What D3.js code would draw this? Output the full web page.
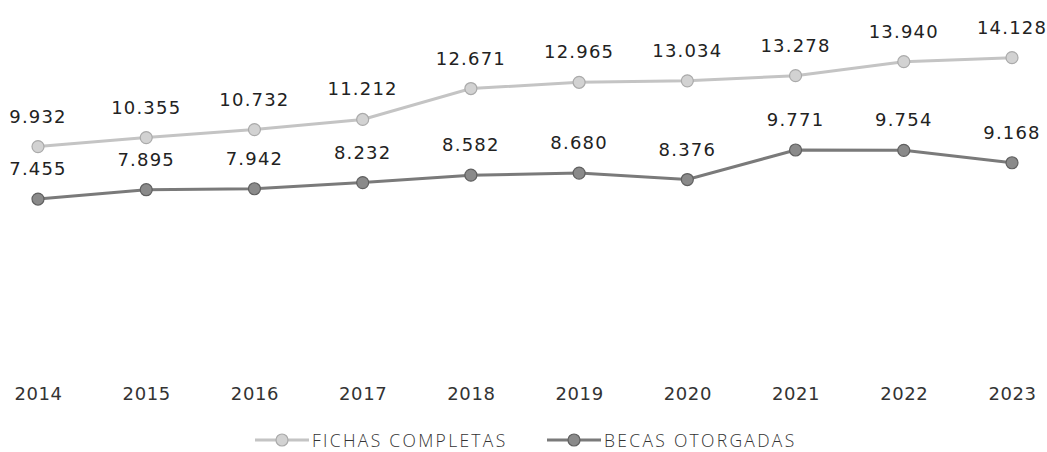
<!DOCTYPE html>
<html><head><meta charset="utf-8">
<script src="https://cdn.jsdelivr.net/npm/d3@7"></script>
<style>body{margin:0;background:#fff}svg{display:block}</style>
</head><body>
<script>
const years = ["2014","2015","2016","2017","2018","2019","2020","2021","2022","2023"];
const fichas = [9932,10355,10732,11212,12671,12965,13034,13278,13940,14128];
const becas = [7455,7895,7942,8232,8582,8680,8376,9771,9754,9168];
const fmt = v => d3.format(",")(v).replace(",", ".");

const W = 1047, H = 452;
const svg = d3.select("body").append("svg").attr("width", W).attr("height", H);
const x = d3.scalePoint().domain(years).range([38, 1012]);
const y = d3.scaleLinear().domain([0, 16000]).range([357, 18]);

const series = [
  {name:"FICHAS COMPLETAS", vals:fichas, line:"#c4c4c4", fill:"#d2d2d2", stroke:"#aaaaaa"},
  {name:"BECAS OTORGADAS", vals:becas, line:"#7a7a7a", fill:"#8a8a8a", stroke:"#606060"}
];

series.forEach(s => {
  const pts = years.map((yr,i)=>[yr, s.vals[i]]);
  svg.append("path").datum(pts)
    .attr("fill","none").attr("stroke", s.line).attr("stroke-width",3)
    .attr("d", d3.line().x(d=>x(d[0])).y(d=>y(d[1])));
  svg.selectAll(null).data(pts).enter().append("circle")
    .attr("cx", d=>x(d[0])).attr("cy", d=>y(d[1])).attr("r",6)
    .attr("fill", s.fill).attr("stroke", s.stroke).attr("stroke-width",1.2);
  svg.selectAll(null).data(pts).enter().append("text")
    .attr("x", d=>x(d[0])).attr("y", d=>y(d[1]) - 24)
    .attr("text-anchor","middle")
    .attr("font-family","DejaVu Sans").attr("font-size",18).attr("letter-spacing","1.2px")
    .attr("fill","#222").text(d=>fmt(d[1]));
});

const xAxis = svg.append("g").attr("transform","translate(0,357)")
  .call(d3.axisBottom(x).tickSize(0).tickPadding(30));
xAxis.select(".domain").remove();
xAxis.selectAll("text").attr("font-family","DejaVu Sans").attr("font-size",18)
  .attr("letter-spacing","0.6px").attr("fill","#333");

// legend
const legX = [255, 547];
series.forEach((s,i) => {
  const g = svg.append("g").attr("transform",`translate(${legX[i]},440)`);
  g.append("line").attr("x1",0).attr("x2",54).attr("y1",0).attr("y2",0)
    .attr("stroke", s.line).attr("stroke-width",3);
  g.append("circle").attr("cx",27).attr("cy",0).attr("r",6)
    .attr("fill", s.fill).attr("stroke", s.stroke).attr("stroke-width",1.2);
  g.append("text").attr("x",57).attr("y",6.5)
    .attr("font-family","Open Sans").attr("font-size",17.5).attr("font-weight",300)
    .attr("letter-spacing","2.3px")
    .attr("fill","#333").text(s.name);
});
</script>
</body></html>
